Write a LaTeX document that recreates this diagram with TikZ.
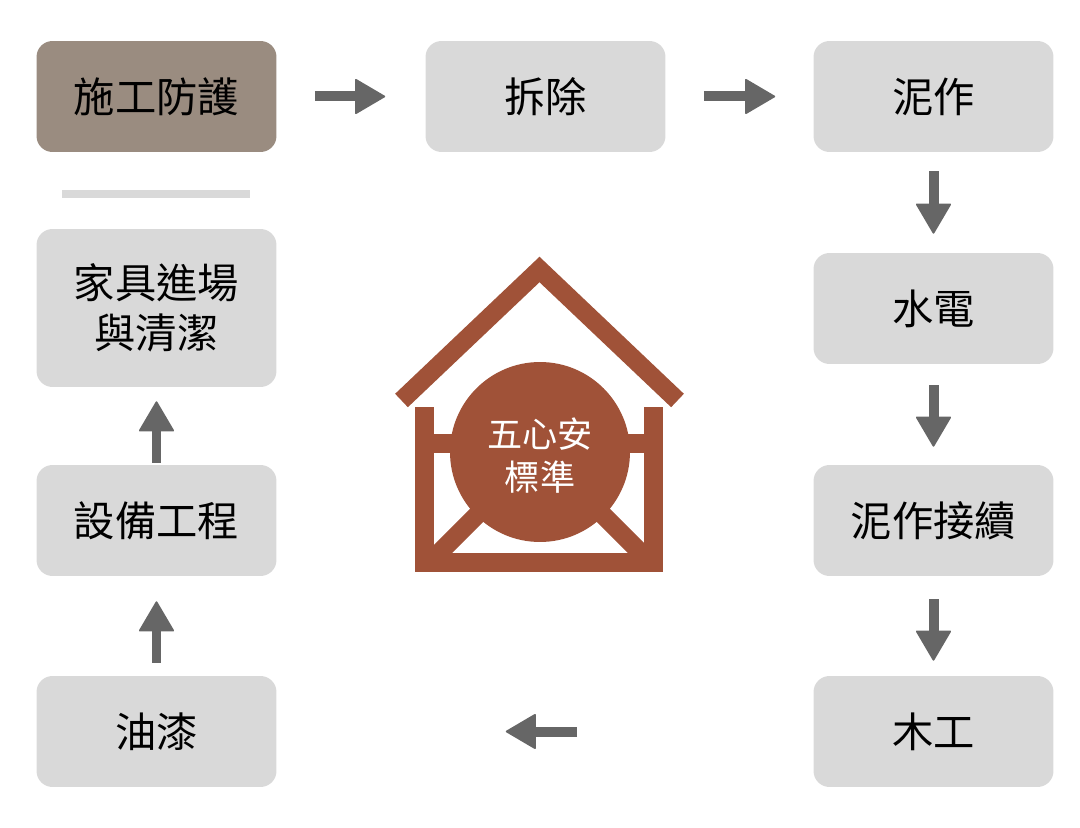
\documentclass[tikz,border=0pt]{standalone}
\usepackage{fontspec}
\setmainfont{Noto Sans CJK TC}
\usepackage{xcolor}
\usetikzlibrary{arrows.meta}
\definecolor{boxgray}{RGB}{217,217,217}
\definecolor{startbrown}{RGB}{154,140,128}
\definecolor{arrowgray}{RGB}{102,102,102}
\definecolor{housered}{RGB}{160,82,56}

\begin{document}
\begin{tikzpicture}[x=0.02cm,y=-0.02cm,
    box/.style={rounded corners=0.32cm,fill=boxgray,minimum width=4.8cm,minimum height=2.22cm,align=center,font=\fontsize{23.5}{28.5}\selectfont},
    flow/.style={arrowgray,line width=0.2cm,-{Triangle[length=0.62cm,width=0.72cm,line width=1pt,round]}},
    house/.style={housered,line width=0.37cm}]
    \useasboundingbox (0,0) rectangle (1080,828);
    \node[box,fill=startbrown] (1) at (156.5,96.5) {施工防護};
    \node[box] (2) at (545.5,96.5) {拆除};
    \node[box] (3) at (933.5,96.5) {泥作};
    \node[box] (4) at (933.5,308.5) {水電};
    \node[box] (5) at (933.5,520.5) {泥作接續};
    \node[box] (6) at (933.5,731.5) {木工};
    \node[box] (7) at (156.5,731.5) {油漆};
    \node[box] (8) at (156.5,520.5) {設備工程};
    \node[box,minimum height=3.16cm] (9) at (156.5,308) {家具進場\\與清潔};
    \fill[boxgray] (62,190) rectangle (250,198);
    \draw[flow,shorten <=0.76cm,shorten >=0.8cm] (1) -- (2);
    \draw[flow,shorten <=0.76cm,shorten >=0.76cm] (2) -- (3);
    \draw[flow,shorten <=0.38cm,shorten >=0.38cm] (3) -- (4);
    \draw[flow,shorten <=0.42cm,shorten >=0.36cm] (4) -- (5);
    \draw[flow,shorten <=0.46cm,shorten >=0.3cm] (5) -- (6);
    \draw[flow,shorten <=4.72cm,shorten >=4.58cm] (6) -- (7);
    \draw[flow,shorten <=0.26cm,shorten >=0.5cm] (7) -- (8);
    \draw[flow,shorten <=0.04cm,shorten >=0.28cm] (8) -- (9);
    \draw[house,miter limit=4] (401.5,400.5) -- (539.5,269.5) -- (677.5,400.5);
    \fill[housered] (415,407) rectangle (434,572);
    \fill[housered] (644,407) rectangle (663,572);
    \fill[housered] (415,553) rectangle (663,572);
    \fill[housered] (434,434) rectangle (644,453);
    \draw[house] (430,562) -- (540,452);
    \draw[house] (650,562) -- (540,452);
    \fill[housered] (540,452) circle (1.8cm);
    \node[white,align=center,font=\fontsize{20}{24.5}\selectfont] (10) at (540,456) {五心安\\標準};
\end{tikzpicture}
\end{document}
